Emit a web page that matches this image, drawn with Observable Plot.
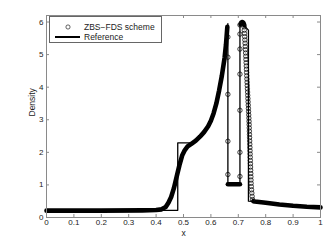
<!DOCTYPE html>
<html><head><meta charset="utf-8">
<script src="https://cdn.jsdelivr.net/npm/d3@7"></script>
<script src="https://cdn.jsdelivr.net/npm/@observablehq/plot@0.6"></script>
<style>
body{margin:0;background:#fff;}
#wrap{position:relative;width:329px;height:241px;font-family:"Liberation Sans",Arial,sans-serif;}
#legend{position:absolute;left:49px;top:16px;}
</style></head><body>
<div id="wrap"></div>
<script>
// ---- axis ticks ----
const xTicks = [0, 0.1, 0.2, 0.3, 0.4, 0.5, 0.6, 0.7, 0.8, 0.9, 1];
const xTickLabels = ["0", "0.1", "0.2", "0.3", "0.4", "0.5", "0.6", "0.7", "0.8", "0.9", "1"];
const yTicks = [0, 1, 2, 3, 4, 5, 6];
const yTickLabels = ["0", "1", "2", "3", "4", "5", "6"];
const xLabel = "x";
const yLabel = "Density";
const seriesNames = ["ZBS\u2212FDS scheme", "Reference"];

// ---- ZBS-FDS scheme: dense runs of markers (appear as a thick band) ----
const segAX = [0, 0.2, 0.35, 0.40, 0.42, 0.435, 0.445, 0.455, 0.465, 0.475, 0.485, 0.495, 0.505, 0.515, 0.53, 0.545, 0.56, 0.575, 0.59, 0.60, 0.61, 0.62, 0.63, 0.64, 0.65, 0.655, 0.66];
const segAY = [0.21, 0.21, 0.22, 0.23, 0.25, 0.32, 0.45, 0.63, 0.9, 1.25, 1.6, 1.9, 2.07, 2.18, 2.27, 2.36, 2.48, 2.62, 2.8, 2.97, 3.2, 3.5, 3.9, 4.35, 4.9, 5.3, 5.85];
const segBX = [0.662, 0.706];
const segBY = [1.02, 1.02];
const segCX = [0.708, 0.711, 0.715, 0.719, 0.722];
const segCY = [5.93, 5.99, 6.0, 5.97, 5.9];
const segDX = [0.755, 0.76, 0.8, 0.85, 0.9, 0.95, 1.0];
const segDY = [0.50, 0.49, 0.45, 0.40, 0.36, 0.33, 0.31];

// ---- ZBS-FDS scheme: individually visible markers ----
const jump1X = [0.662, 0.662, 0.662, 0.662, 0.662];
const jump1Y = [5.54, 4.92, 3.78, 2.34, 1.32];
const jump2X = [0.706, 0.706, 0.706, 0.706, 0.706, 0.706, 0.706];
const jump2Y = [1.26, 2.0, 3.29, 4.4, 5.17, 5.63, 5.91];
const shockX = [0.721, 0.7218, 0.7225, 0.7232, 0.7239, 0.7246, 0.7253, 0.726, 0.7267, 0.7273, 0.7279, 0.7285, 0.7291, 0.7297, 0.7303, 0.7309, 0.7315, 0.7321, 0.7327, 0.7333, 0.7339, 0.7345, 0.7351, 0.7357, 0.7363, 0.7369, 0.7375, 0.7381, 0.7387, 0.7392, 0.7396, 0.74, 0.7404, 0.7408, 0.7412, 0.7416, 0.742, 0.7424, 0.7428, 0.7432, 0.7436, 0.744, 0.7444, 0.7448, 0.7452, 0.7456, 0.746, 0.7464, 0.7468, 0.7475, 0.7485, 0.7495, 0.7505, 0.752];
const shockY = [5.85, 5.75, 5.65, 5.55, 5.45, 5.35, 5.25, 5.15, 5.05, 4.95, 4.85, 4.75, 4.65, 4.55, 4.45, 4.35, 4.25, 4.15, 4.05, 3.95, 3.85, 3.75, 3.65, 3.55, 3.45, 3.35, 3.25, 3.15, 3.05, 2.95, 2.85, 2.75, 2.65, 2.55, 2.45, 2.35, 2.25, 2.15, 2.05, 1.95, 1.85, 1.75, 1.65, 1.55, 1.45, 1.35, 1.25, 1.15, 1.05, 0.95, 0.85, 0.75, 0.65, 0.55];

// ---- Reference solution ----
const refX = [0, 0.479, 0.479, 0.532, 0.545, 0.56, 0.575, 0.59, 0.60, 0.61, 0.62, 0.63, 0.64, 0.65, 0.655, 0.662, 0.662, 0.706, 0.706, 0.72, 0.737, 0.737, 0.76, 0.8, 0.85, 0.9, 0.95, 1.0];
const refY = [0.22, 0.22, 2.29, 2.29, 2.36, 2.48, 2.62, 2.8, 2.97, 3.2, 3.5, 3.9, 4.35, 4.9, 5.3, 5.95, 1.02, 1.02, 5.95, 5.9, 5.75, 0.5, 0.49, 0.45, 0.40, 0.36, 0.33, 0.31];

// ---- build tables ----
const thick = [];
[[segAX, segAY], [segBX, segBY], [segCX, segCY], [segDX, segDY]].forEach((s, k) =>
  s[0].forEach((x, i) => thick.push({x, y: s[1][i], z: k})));
const dots = [];
[[jump1X, jump1Y], [jump2X, jump2Y], [shockX, shockY]].forEach(s =>
  s[0].forEach((x, i) => dots.push({x, y: s[1][i]})));
const ref = refX.map((x, i) => ({x, y: refY[i]}));
const xFmt = new Map(xTicks.map((t, i) => [t, xTickLabels[i]]));
const yFmt = new Map(yTicks.map((t, i) => [t, yTickLabels[i]]));

const W = 329, H = 241, mL = 46, mR = 9, mT = 15, mB = 24;
const fw = W - mL - mR, fh = H - mT - mB;
const axisColor = "#8a8a8a";
const font = "'Liberation Sans', Arial, sans-serif";

const chart = Plot.plot({
  width: W, height: H,
  marginLeft: mL, marginRight: mR, marginTop: mT, marginBottom: mB,
  style: {fontFamily: font, fontSize: "8px", color: "#222", background: "#fff"},
  x: {domain: [0, 1], label: null},
  y: {domain: [0, 6.2], label: null},
  marks: [
    Plot.line(thick, {x: "x", y: "y", z: "z", stroke: "#000", strokeWidth: 4.6, strokeLinecap: "round", strokeLinejoin: "round"}),
    Plot.dot(dots, {x: "x", y: "y", r: 2.2, stroke: "#111", strokeWidth: 0.8, fill: "none"}),
    Plot.line(ref, {x: "x", y: "y", stroke: "#000", strokeWidth: 1.3}),
    Plot.frame({stroke: axisColor}),
    Plot.tickX(xTicks, {x: d => d, insetTop: fh - 3, stroke: axisColor}),
    Plot.tickX(xTicks, {x: d => d, insetBottom: fh - 3, stroke: axisColor}),
    Plot.tickY(yTicks, {y: d => d, insetRight: fw - 3, stroke: axisColor}),
    Plot.tickY(yTicks, {y: d => d, insetLeft: fw - 3, stroke: axisColor}),
    Plot.axisX(xTicks, {tickSize: 0, tickPadding: 2, fontSize: 8, tickFormat: d => xFmt.get(d), label: null, fill: "#222"}),
    Plot.axisY(yTicks, {tickSize: 0, tickPadding: 3, fontSize: 8, tickFormat: d => yFmt.get(d), label: null, fill: "#222"}),
    Plot.text([xLabel], {text: d => d, frameAnchor: "bottom", dy: 18, fontSize: 8.5, fill: "#222"}),
    Plot.text([yLabel], {text: d => d, frameAnchor: "left", dx: -14, rotate: -90, fontSize: 8.5, fill: "#222"})
  ]
});
const wrap = document.getElementById("wrap");
wrap.appendChild(chart);

// legend overlay
const lg = d3.select(wrap).append("svg").attr("id", "legend").attr("width", 114).attr("height", 28)
  .style("font-family", font).style("font-size", "8.5px");
lg.append("rect").attr("x", 0.5).attr("y", 0.5).attr("width", 112).attr("height", 26).attr("fill", "#fff").attr("stroke", "#666");
lg.append("circle").attr("cx", 19).attr("cy", 11).attr("r", 2.1).attr("fill", "none").attr("stroke", "#222").attr("stroke-width", 0.7);
lg.append("line").attr("x1", 6).attr("x2", 31).attr("y1", 21).attr("y2", 21).attr("stroke", "#000").attr("stroke-width", 2);
lg.append("text").attr("x", 35).attr("y", 11).attr("dy", "0.35em").attr("fill", "#222").text(seriesNames[0]);
lg.append("text").attr("x", 35).attr("y", 21).attr("dy", "0.35em").attr("fill", "#222").text(seriesNames[1]);
</script>
</body></html>
